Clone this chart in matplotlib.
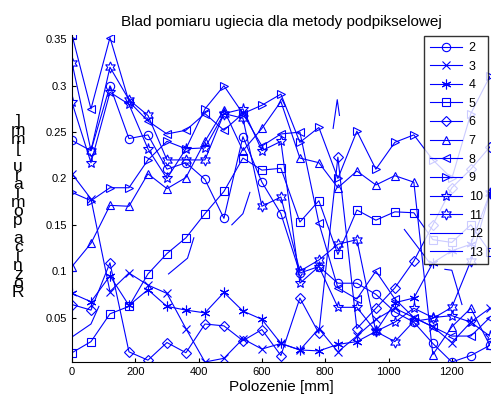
import numpy as np
import matplotlib
matplotlib.use("Agg")
import matplotlib.pyplot as plt

plt.rcParams['font.family'] = ['Liberation Sans', 'DejaVu Sans']

# positions along the beam [mm]
x = np.arange(0, 1321, 60)

s2 = [0.241, 0.230, 0.300, 0.243, 0.247, 0.210, 0.217, 0.199, 0.157, 0.245, 0.196, 0.162,
      0.098, 0.105, 0.087, 0.087, 0.075, 0.056, 0.045, 0.022, 0.002, 0.009, 0.020]
s3 = [0.205, 0.178, 0.078, 0.098, 0.085, 0.076, 0.038, 0.002, 0.006, 0.027, 0.016, 0.022,
      0.015, 0.038, 0.013, 0.030, 0.048, 0.060, 0.050, 0.040, 0.023, 0.045, 0.060]
s4 = [0.076, 0.067, 0.095, 0.063, 0.080, 0.062, 0.058, 0.055, 0.077, 0.057, 0.048, 0.022,
      0.015, 0.014, 0.021, 0.024, 0.035, 0.066, 0.071, 0.109, 0.122, 0.129, 0.184]
s5 = [0.012, 0.024, 0.054, 0.062, 0.097, 0.119, 0.136, 0.162, 0.186, 0.222, 0.209, 0.211,
      0.153, 0.176, 0.118, 0.166, 0.155, 0.164, 0.163, 0.134, 0.131, 0.150, 0.121]
s6 = [0.064, 0.058, 0.109, 0.013, 0.004, 0.023, 0.012, 0.043, 0.041, 0.025, 0.037, 0.009,
      0.071, 0.033, 0.223, 0.038, 0.060, 0.082, 0.111, 0.150, 0.190, 0.210, 0.234]
s7 = [0.105, 0.130, 0.171, 0.170, 0.205, 0.189, 0.201, 0.240, 0.274, 0.230, 0.254, 0.283,
      0.222, 0.217, 0.190, 0.208, 0.193, 0.203, 0.196, 0.010, 0.040, 0.060, 0.020]
s8 = [0.355, 0.275, 0.352, 0.283, 0.262, 0.248, 0.252, 0.270, 0.252, 0.270, 0.235, 0.248,
      0.250, 0.152, 0.082, 0.070, 0.100, 0.070, 0.050, 0.040, 0.030, 0.030, 0.050]
s9 = [0.185, 0.176, 0.190, 0.190, 0.220, 0.240, 0.232, 0.275, 0.300, 0.270, 0.279, 0.291,
      0.239, 0.255, 0.200, 0.251, 0.210, 0.239, 0.247, 0.220, 0.200, 0.270, 0.310]
s10 = [0.282, 0.217, 0.293, 0.280, 0.232, 0.200, 0.232, 0.233, 0.270, 0.275, 0.230, 0.240,
       0.087, 0.105, 0.061, 0.061, 0.035, 0.045, 0.060, 0.050, 0.052, 0.045, 0.030]
s11 = [0.325, 0.230, 0.320, 0.285, 0.268, 0.220, 0.220, 0.220, 0.270, 0.265, 0.170, 0.180,
       0.100, 0.112, 0.129, 0.134, 0.035, 0.024, 0.046, 0.049, 0.061, 0.111, 0.184]

# series 12 and 13 only have broken pieces
s12_x = [0, 60, 85, np.nan, 305, 365, 385, np.nan, 505, 540, 562]
s12 = [0.029, 0.043, 0.062, np.nan, 0.097, 0.114, 0.136, np.nan, 0.150, 0.162, 0.185]
s13_x = [825, 838, 845, np.nan, 1050, 1130, np.nan, 1178, 1200, 1232]
s13 = [0.254, 0.285, 0.268, np.nan, 0.145, 0.109, np.nan, 0.102, 0.101, 0.064]

labels = ['2', '3', '4', '5', '6', '7', '8', '9', '10', '11', '12', '13']
# matlab style markers: o x * s d ^ < > p h
markers = ['o', 'x', (6, 2, 0), 's', 'D', '^', '<', '>', '*', (6, 1, 0)]
sizes = [6, 6, 7, 6, 5, 6, 6, 6, 8, 8]
series = [s2, s3, s4, s5, s6, s7, s8, s9, s10, s11]

fig = plt.figure(figsize=(4.91, 4.03), dpi=100)
ax = fig.add_axes([0.1466, 0.1017, 0.851, 0.812])

for i, s in enumerate(series):
    ax.plot(x, s, color='blue', lw=0.8, marker=markers[i], ms=sizes[i],
            mfc='none', mec='blue', mew=0.8, label=labels[i])
ax.plot(s12_x, s12, color='blue', lw=0.8, label=labels[10])
ax.plot(s13_x, s13, color='blue', lw=0.8, label=labels[11])

allvals = np.concatenate([np.array(s, dtype=float) for s in series])
ax.set_xlim(0, 1320)
ax.set_ylim(np.nanmin(allvals), np.nanmax(allvals))
ax.set_xticks([0, 200, 400, 600, 800, 1000, 1200])
ax.set_yticks([0.05, 0.1, 0.15, 0.2, 0.25, 0.3, 0.35])
ax.set_yticklabels(['0.05', '0.1', '0.15', '0.2', '0.25', '0.3', '0.35'])
ax.tick_params(direction='in', labelsize=8, length=3)
ax.spines['top'].set_visible(False)
ax.spines['right'].set_visible(False)

ax.set_title('Blad pomiaru ugiecia dla metody podpikselowej', fontsize=11, pad=6)
ax.set_xlabel('Polozenie [mm]', fontsize=11, labelpad=2)

# y label drawn as stacked upright letters, like the original
ylab = 'Roznica pomiaru [mm]'
fig.text(0.037, 0.487, '\n'.join(reversed(ylab)), fontsize=12.5, ha='center', va='center',
         linespacing=0.5)

leg = ax.legend(loc='upper right', fontsize=9, handlelength=2.6, handletextpad=0.5,
                frameon=True, fancybox=False, edgecolor='black', borderaxespad=0.12,
                labelspacing=0.53, borderpad=0.45)
leg.get_frame().set_linewidth(1.0)

fig.savefig('out.png', dpi=100)
